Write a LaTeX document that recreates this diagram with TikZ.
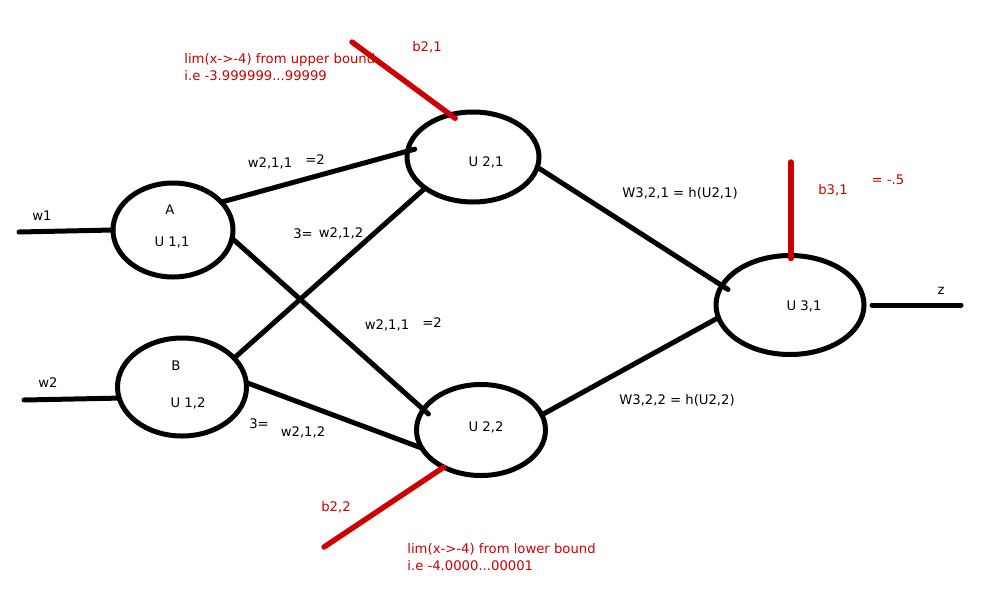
\documentclass[tikz,border=0pt]{standalone}
\usepackage{fontspec}
\setmainfont{DejaVu Sans}
\usetikzlibrary{shapes.geometric}
\definecolor{bred}{HTML}{CC0000}
\begin{document}
\begin{tikzpicture}[x=0.5pt,y=-0.5pt,
  neuron/.style={draw,ellipse,line width=2.5pt,inner sep=0pt,outer sep=0pt},
  wire/.style={line width=2.5pt,line cap=round},
  bias/.style={line width=2.7pt,line cap=round,draw=bred},
  lbl/.style={inner sep=0pt,font=\fontsize{6.6}{8}\selectfont},
  rlbl/.style={lbl,text=bred}]
\fill[white] (0,0) rectangle (1000,600);
\useasboundingbox (0,0) rectangle (1000,600);
% neurons
\node[neuron,minimum width=60pt,minimum height=47pt] (u11) at (173,230) {};
\node[neuron,minimum width=64.5pt,minimum height=49pt] (u12) at (182,387) {};
\node[neuron,minimum width=66pt,minimum height=45pt] (u21) at (473,157) {};
\node[neuron,minimum width=64.5pt,minimum height=45.5pt] (u22) at (481,430) {};
\node[neuron,minimum width=74pt,minimum height=49.5pt] (u31) at (790,305) {};
% free ends
\coordinate (in1) at (19,232);
\coordinate (in2) at (24,400);
\coordinate (outS) at (872,305);
\coordinate (outE) at (961,305);
\coordinate (b21s) at (352,42);
\coordinate (b22s) at (324,547);
\coordinate (b31s) at (791,162);
% connectors
\draw[wire] (in1) -- (u11.west);
\draw[wire] (in2) -- (u12.190);
\draw[wire] (u11.30) -- ([shift={(7,-1)}]u21.174);
\draw[wire] (u11.-8) -- ([shift={(6,3)}]u22.162);
\draw[wire] (u12.29) -- (u21.213);
\draw[wire] (u12.4) -- (u22.197);
\draw[wire] (u21.-9) -- ([shift={(6,4)}]u31.164);
\draw[wire] (u22.14) -- (u31.190);
\draw[wire] (outS) -- (outE);
\draw[bias] (b21s) -- ([shift={(3,4)}]u21.116);
\draw[bias] (b22s) -- (u22.225);
\draw[bias] (b31s) -- ([shift={(1,3)}]u31.north);
% neuron labels
\node[lbl] (la) at (170,210) {A};
\node[lbl] (lu11) at (172,242) {U 1,1};
\node[lbl] (lb) at (176,366) {B};
\node[lbl] (lu12) at (188,403) {U 1,2};
\node[lbl] (lu21) at (486,162) {U 2,1};
\node[lbl] (lu22) at (486,427) {U 2,2};
\node[lbl] (lu31) at (804,306) {U 3,1};
% weight labels
\node[lbl] (w1) at (42,216) {w1};
\node[lbl] (w2) at (48,383) {w2};
\node[lbl] (t1) at (270,163) {w2,1,1};
\node[lbl] (t1e) at (315,160) {=2};
\node[lbl] (t2e) at (303,234) {3=};
\node[lbl] (t2) at (341,233) {w2,1,2};
\node[lbl] (t3) at (387,325) {w2,1,1};
\node[lbl] (t3e) at (432,323) {=2};
\node[lbl] (t4e) at (259,424) {3=};
\node[lbl] (t4) at (303,432) {w2,1,2};
\node[lbl] (t5) at (680,193) {W3,2,1 = h(U2,1)};
\node[lbl] (t6) at (677,400) {W3,2,2 = h(U2,2)};
\node[lbl] (z) at (941,291) {z};
% bias labels
\node[rlbl] (lb21) at (427,47) {b2,1};
\node[rlbl] (lb22) at (336,507) {b2,2};
\node[rlbl] (lb31) at (833,190) {b3,1};
\node[rlbl] (lb31v) at (888,180) {= -.5};
\node[rlbl,anchor=west] (up1) at (184,60) {lim(x->-4) from upper bound};
\node[rlbl,anchor=west] (up2) at (184,76) {i.e -3.999999...99999};
\node[rlbl,anchor=west] (lo1) at (407,549) {lim(x->-4) from lower bound};
\node[rlbl,anchor=west] (lo2) at (407,566) {i.e -4.0000...00001};
\end{tikzpicture}
\end{document}
